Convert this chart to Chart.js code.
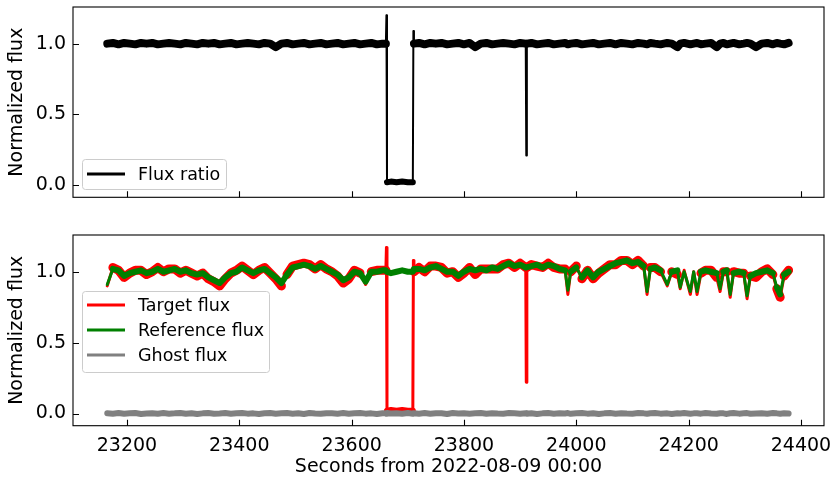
<!DOCTYPE html>
<html>
<head>
<meta charset="utf-8">
<script src="https://cdn.jsdelivr.net/npm/chart.js@4.4.0/dist/chart.umd.min.js"></script>
<style>
  body { margin: 0; background: #fff; }
  #top { position: absolute; left: 0; top: 0; }
  #bottom { position: absolute; left: 0; top: 230px; }
</style>
</head>
<body>
<canvas id="top" width="832" height="230"></canvas>
<canvas id="bottom" width="832" height="247"></canvas>
<script>
// time samples (seconds from 2022-08-09 00:00)
const seconds = [
  23165,23175,23185,23195,23205,23215,23225,23235,23245,23255,
  23265,23275,23285,23295,23305,23315,23325,23335,23345,23355,
  23365,23375,23385,23395,23405,23415,23425,23435,23445,23455,
  23465,23475,23485,23495,23505,23515,23525,23535,23545,23555,
  23565,23575,23585,23595,23605,23615,23625,23635,23645,23655,
  23661,23662,23663,23670,23680,23690,23700,23709,23710,23711,23720,
  23730,23740,23750,23760,23770,23780,23790,23800,23810,23820,
  23830,23840,23850,23860,23870,23880,23890,23900,23910,23911,23912,
  23920,23930,23940,23950,23960,23970,23980,23985,23990,24000,
  24010,24020,24030,24040,24050,24060,24070,24080,24090,24100,
  24110,24120,24126,24132,24140,24150,24162,24170,24180,24185,
  24192,24203,24209,24215,24222,24230,24240,24250,24256,24262,
  24268,24274,24280,24290,24298,24304,24310,24320,24330,24340,
  24350,24357,24363,24370,24378
];

const fluxRatio = [
  1.000,1.005,0.995,1.005,1.000,0.995,1.005,1.000,1.005,0.995,
  1.000,1.005,1.000,0.995,1.005,1.000,0.995,1.005,1.000,1.005,
  0.995,1.000,1.005,0.995,1.000,1.005,1.000,0.995,1.005,1.000,
  0.975,1.000,1.005,0.995,1.000,1.005,0.995,1.000,1.005,0.995,
  1.000,1.005,0.995,1.000,1.005,0.995,1.000,1.005,0.995,1.000,
  1.000,1.200,0.020,0.025,0.020,0.025,0.020,0.020,1.090,1.000,1.005,
  0.995,1.005,1.000,1.005,0.995,1.000,1.005,0.995,1.005,0.975,
  1.000,1.005,0.995,1.000,1.005,1.000,0.995,1.005,1.000,0.210,1.000,
  1.005,0.995,1.000,1.005,0.995,1.000,1.005,0.995,1.000,1.005,
  0.995,1.000,1.005,0.995,1.000,1.005,0.995,1.005,1.000,0.995,
  1.005,1.000,0.995,1.005,1.000,0.995,1.005,1.000,0.975,1.000,
  1.005,0.995,1.000,1.005,0.995,1.000,1.005,0.975,1.000,1.005,
  0.995,1.000,1.005,0.995,1.000,1.005,1.000,0.975,1.000,1.005,
  0.995,1.005,1.000,0.995,1.005
];

const targetFlux = [
  0.90,1.03,1.01,0.96,0.99,1.01,1.01,0.98,1.00,1.03,
  1.00,1.02,1.02,0.99,1.01,0.99,0.97,0.99,0.95,0.93,
  0.90,0.95,0.99,1.01,1.04,1.01,0.98,1.01,1.03,0.99,
  0.95,0.90,0.98,1.04,1.05,1.06,1.05,1.02,1.05,1.02,
  1.00,0.97,0.92,0.95,1.01,0.99,0.91,1.00,1.01,1.01,
  1.01,1.17,0.02,0.025,0.02,0.025,0.02,0.02,1.08,1.00,1.03,
  1.00,1.04,1.04,1.03,0.99,1.00,0.96,0.99,1.03,0.98,
  1.02,1.02,1.02,1.02,1.05,1.06,1.03,1.06,1.03,0.22,1.03,
  1.05,1.04,1.03,1.06,1.03,1.02,1.02,0.84,1.00,1.04,
  0.95,1.01,0.95,0.99,1.02,1.05,1.05,1.08,1.08,1.05,
  1.08,1.04,0.84,1.03,1.03,1.00,0.90,1.00,0.98,0.88,
  1.01,0.84,1.00,0.84,0.99,1.01,1.01,0.96,0.86,1.00,
  1.00,0.82,1.00,0.99,0.99,0.81,0.97,0.96,1.00,1.02,
  0.98,0.88,0.82,0.97,1.01
];

const referenceFlux = [
  0.91,1.02,1.01,0.97,0.99,1.00,1.01,0.99,1.00,1.02,
  1.00,1.01,1.02,1.00,1.01,0.99,0.98,0.99,0.96,0.94,
  0.92,0.96,0.99,1.00,1.03,1.01,0.99,1.01,1.02,0.99,
  0.96,0.92,0.98,1.03,1.04,1.05,1.04,1.02,1.04,1.02,
  1.00,0.98,0.94,0.96,1.00,0.99,0.93,1.00,1.00,1.01,
  1.01,1.00,1.00,0.99,1.00,1.01,1.00,1.00,1.01,1.02,1.02,
  1.01,1.03,1.04,1.02,1.00,1.00,0.97,1.00,1.02,1.01,
  1.02,1.01,1.03,1.02,1.04,1.06,1.04,1.05,1.03,1.03,1.03,
  1.04,1.05,1.03,1.05,1.04,1.02,1.01,0.87,1.00,1.03,
  0.96,1.01,0.96,1.00,1.02,1.04,1.06,1.07,1.08,1.06,
  1.07,1.04,0.86,1.02,1.03,1.01,0.91,1.00,1.01,0.89,
  1.00,0.86,1.00,0.86,1.00,1.01,1.00,0.99,0.88,1.00,
  1.01,0.84,0.99,1.00,0.99,0.83,0.97,0.99,1.00,1.01,
  0.99,0.89,0.84,0.98,1.00
];

const ghostFlux = [
  0.002,-0.001,0.003,-0.002,0.001,0.004,-0.003,0.000,0.002,-0.002,
  0.003,-0.001,0.001,0.004,-0.002,0.002,-0.003,0.001,0.003,-0.001,
  0.000,0.003,-0.002,0.002,0.004,-0.001,0.001,-0.003,0.002,0.003,
  -0.002,0.001,0.003,-0.001,0.002,-0.003,0.004,0.000,-0.002,0.002,
  0.001,-0.001,0.003,-0.002,0.002,0.004,-0.001,0.001,-0.003,0.002,
  0.001,-0.002,0.003,0.000,0.002,-0.001,0.003,-0.002,0.001,0.002,-0.001,
  0.003,-0.002,0.001,0.002,-0.003,0.004,0.000,0.002,-0.001,0.001,
  0.003,-0.002,0.002,0.000,-0.001,0.003,0.001,-0.002,0.002,0.001,-0.001,
  0.002,-0.003,0.001,0.003,-0.001,0.002,0.000,0.003,-0.002,0.001,
  0.004,-0.001,0.002,-0.003,0.001,0.003,-0.002,0.002,0.000,-0.001,
  0.003,0.001,-0.002,0.002,0.004,-0.001,0.001,-0.003,0.002,0.000,
  0.003,-0.002,0.001,0.002,-0.001,0.003,0.000,-0.002,0.002,0.001,
  -0.003,0.002,0.004,-0.001,0.001,0.003,-0.002,0.000,0.002,-0.001,
  0.003,0.001,-0.002,0.002,0.000
];

const xTicks = [23200, 23400, 23600, 23800, 24000, 24200, 24400];
const yTicks = [0, 0.5, 1.0];

Chart.defaults.font.family = '"DejaVu Sans", sans-serif';
Chart.defaults.font.size = 19;
Chart.defaults.color = '#000';

const pts = arr => seconds.map((t, i) => ({ x: t, y: arr[i] }));

// thin line where the curve jumps, slimmer band while in eclipse
const thinJumps = (w, lim, low) => ({
  borderWidth: c => {
    const a = c.p0.parsed.y, b = c.p1.parsed.y;
    if (Math.abs(b - a) > lim) return w;
    if (low && a < 0.1 && b < 0.1) return low;
    return undefined;
  }
});

// box, inward ticks like matplotlib
const mplFrame = {
  id: 'mplFrame',
  afterDraw(chart) {
    const { ctx, chartArea: a, scales } = chart;
    ctx.save();
    ctx.strokeStyle = '#000';
    ctx.lineWidth = 1.1;
    ctx.strokeRect(a.left, a.top, a.right - a.left, a.bottom - a.top);
    ctx.beginPath();
    scales.x.ticks.forEach(t => {
      const px = Math.round(scales.x.getPixelForValue(t.value)) + 0.5;
      ctx.moveTo(px, a.bottom); ctx.lineTo(px, a.bottom - 6);
    });
    scales.y.ticks.forEach(t => {
      const py = Math.round(scales.y.getPixelForValue(t.value)) + 0.5;
      ctx.moveTo(a.left, py); ctx.lineTo(a.left + 6, py);
    });
    ctx.stroke();
    ctx.restore();
  }
};

const boxLegend = {
  id: 'boxLegend',
  afterDraw(chart, args, o) {
    const { ctx, chartArea: a } = chart;
    const x = a.left + o.x, y = a.top + o.y;
    ctx.save();
    ctx.fillStyle = 'rgba(255,255,255,0.8)';
    ctx.strokeStyle = '#cccccc';
    ctx.lineWidth = 1;
    ctx.beginPath();
    ctx.roundRect(x + 0.5, y + 0.5, o.w, o.h, 3);
    ctx.fill();
    ctx.stroke();
    ctx.font = '17.5px "DejaVu Sans"';
    ctx.textBaseline = 'middle';
    chart.data.datasets.forEach((d, i) => {
      const cy = y + o.first + i * o.gap;
      ctx.strokeStyle = d.borderColor;
      ctx.lineWidth = 3;
      ctx.beginPath();
      ctx.moveTo(x + 5, cy); ctx.lineTo(x + 43, cy);
      ctx.stroke();
      ctx.fillStyle = '#000';
      ctx.fillText(d.label, x + 56, cy + 1);
    });
    ctx.restore();
  }
};

function axes(showX, xHeight) {
  return {
    x: {
      type: 'linear', min: 23104, max: 24441,
      afterBuildTicks: s => { s.ticks = xTicks.map(v => ({ value: v })); },
      afterFit: s => { s.height = xHeight; s.paddingLeft = 0; s.paddingRight = 0; },
      grid: { display: false, drawTicks: false },
      border: { display: false },
      ticks: { display: showX, autoSkip: false, maxRotation: 0, padding: 9, callback: v => String(v) },
      title: { display: showX, text: 'Seconds from 2022-08-09 00:00', padding: { top: 0, bottom: -1 } }
    },
    y: {
      min: -0.086, max: 1.259,
      afterBuildTicks: s => { s.ticks = yTicks.map(v => ({ value: v })); },
      afterFit: s => { s.width = 73; s.paddingTop = 0; s.paddingBottom = 0; },
      grid: { display: false, drawTicks: false },
      border: { display: false },
      ticks: { padding: 7, callback: v => Number(v).toFixed(1) },
      title: { display: true, text: 'Normalized flux', padding: { top: 6, bottom: 0 } }
    }
  };
}

const common = {
  responsive: false,
  animation: false,
  devicePixelRatio: 1,
  events: [],
  elements: { point: { radius: 0 }, line: { tension: 0, borderJoinStyle: 'round', borderCapStyle: 'round' } }
};

new Chart(document.getElementById('top'), {
  type: 'line',
  data: {
    datasets: [
      { label: 'Flux ratio', data: pts(fluxRatio), borderColor: '#000000', borderWidth: 8, segment: thinJumps(2, 0.05, 6) }
    ]
  },
  options: {
    ...common,
    layout: { padding: { top: 7, right: 8, left: 0, bottom: 0 } },
    scales: axes(false, 32.7),
    plugins: {
      legend: { display: false }, tooltip: { enabled: false },
      boxLegend: { x: 9, y: 152, w: 144, h: 30, first: 15, gap: 25 }
    }
  },
  plugins: [mplFrame, boxLegend]
});

new Chart(document.getElementById('bottom'), {
  type: 'line',
  data: {
    datasets: [
      { label: 'Target flux', data: pts(targetFlux), borderColor: '#ff0000', borderWidth: 9, order: 3, segment: thinJumps(3, 0.07, 6) },
      { label: 'Reference flux', data: pts(referenceFlux), borderColor: '#008000', borderWidth: 6, order: 2, segment: thinJumps(3, 0.07) },
      { label: 'Ghost flux', data: pts(ghostFlux), borderColor: '#808080', borderWidth: 6, order: 1 }
    ]
  },
  options: {
    ...common,
    layout: { padding: { top: 5, right: 8, left: 0, bottom: 0 } },
    scales: axes(true, 51.3),
    plugins: {
      legend: { display: false }, tooltip: { enabled: false },
      boxLegend: { x: 9, y: 56, w: 187, h: 81, first: 14, gap: 25 }
    }
  },
  plugins: [mplFrame, boxLegend]
});
</script>
</body>
</html>
